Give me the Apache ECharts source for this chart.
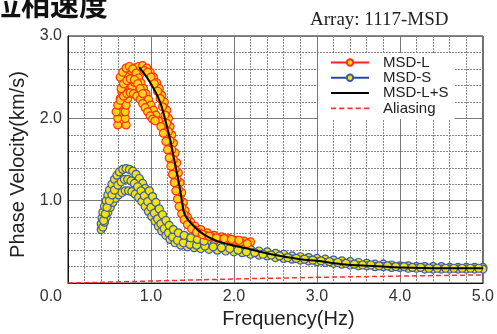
<!DOCTYPE html>
<html>
<head>
<meta charset="UTF-8" />
<script src="https://cdn.jsdelivr.net/npm/echarts@6/dist/echarts.min.js"></script>
<style>
  html, body { margin: 0; padding: 0; background: #fff; }
  #main { width: 497px; height: 334px; }
</style>
</head>
<body>
<div id="main"></div>
<script>
// axis ticks
var xTicks = [0, 1, 2, 3, 4, 5];
var yTicks = [0, 1, 2, 3];

// MSD-L branches [freq(Hz), phase velocity(km/s)]
var msdL1 = [[0.6,1.92],[0.6,2.0],[0.61,2.08],[0.62,2.16],[0.63,2.24],[0.65,2.32],[0.67,2.4],[0.69,2.47],[0.72,2.53],[0.76,2.58],[0.8,2.61],[0.85,2.63],[0.9,2.64],[0.95,2.61],[0.99,2.56],[1.03,2.5],[1.07,2.43],[1.1,2.36],[1.13,2.28],[1.16,2.2],[1.19,2.1],[1.21,2.0],[1.23,1.9],[1.25,1.8],[1.27,1.7],[1.29,1.58],[1.31,1.46],[1.33,1.34],[1.35,1.22],[1.37,1.1],[1.39,0.98],[1.41,0.88],[1.44,0.8],[1.48,0.74],[1.53,0.69],[1.6,0.65],[1.68,0.61],[1.76,0.58],[1.85,0.56],[1.94,0.54],[2.03,0.52],[2.12,0.51],[2.2,0.5]];
var msdL2 = [[0.7,1.92],[0.69,2.0],[0.69,2.08],[0.7,2.16],[0.72,2.24],[0.74,2.31],[0.77,2.38],[0.8,2.44],[0.84,2.5],[0.88,2.55],[0.92,2.58],[0.96,2.56],[1.0,2.5],[1.04,2.42],[1.08,2.33],[1.11,2.24],[1.14,2.14],[1.17,2.04],[1.19,1.94],[1.21,1.84],[1.23,1.73],[1.25,1.62],[1.27,1.5],[1.29,1.38],[1.31,1.26],[1.33,1.14],[1.35,1.02],[1.37,0.92],[1.4,0.83],[1.43,0.76],[1.47,0.7],[1.52,0.65],[1.58,0.61],[1.65,0.58],[1.73,0.56],[1.81,0.54],[1.9,0.53],[1.99,0.52],[2.08,0.5],[2.16,0.48]];
var msdL3 = [[0.63,2.5],[0.66,2.56],[0.7,2.61],[0.74,2.63],[0.78,2.6],[0.82,2.55],[0.85,2.49],[0.88,2.43],[0.91,2.36],[0.94,2.3],[0.97,2.23],[1.0,2.16],[1.03,2.1],[1.06,2.04],[1.09,1.97],[1.12,1.9],[1.15,1.82],[1.18,1.72],[1.2,1.62],[1.22,1.52],[1.24,1.42],[1.26,1.32],[1.28,1.22],[1.3,1.12],[1.32,1.02],[1.34,0.93],[1.37,0.84],[1.4,0.77],[1.44,0.71],[1.49,0.66],[1.55,0.62],[1.62,0.59],[1.7,0.57],[1.79,0.55],[1.88,0.54],[1.97,0.53],[2.06,0.52]];
var msdL4 = [[0.58,2.08],[0.6,2.16],[0.63,2.22],[0.67,2.27],[0.71,2.3],[0.75,2.31],[0.79,2.3],[0.83,2.27],[0.87,2.23],[0.9,2.18],[0.93,2.13],[0.96,2.08],[0.99,2.03],[1.02,1.99],[1.05,1.97]];
var msdL5 = [[0.64,2.36],[0.67,2.42],[0.71,2.46],[0.75,2.48],[0.8,2.47],[0.84,2.42],[0.87,2.36],[0.9,2.3]];

// MSD-S branches
var msdS1 = [[0.4,0.65],[0.4,0.72],[0.41,0.79],[0.42,0.86],[0.44,0.93],[0.46,1.0],[0.48,1.07],[0.5,1.13],[0.53,1.2],[0.56,1.26],[0.59,1.31],[0.62,1.35],[0.66,1.38],[0.7,1.39],[0.74,1.38],[0.78,1.36],[0.82,1.32],[0.86,1.27],[0.9,1.21],[0.93,1.15],[0.96,1.09],[0.99,1.03],[1.02,0.97],[1.05,0.91],[1.08,0.85],[1.11,0.79],[1.14,0.74],[1.18,0.69],[1.22,0.65],[1.27,0.61],[1.32,0.58],[1.38,0.55],[1.45,0.53],[1.52,0.51],[1.6,0.49],[1.68,0.48],[1.76,0.47],[1.84,0.46],[1.92,0.45],[2.0,0.44],[2.1,0.42],[2.2,0.41],[2.3,0.39],[2.4,0.38],[2.5,0.36],[2.6,0.35],[2.7,0.33],[2.8,0.32],[2.9,0.31],[3.0,0.3],[3.1,0.29],[3.2,0.28],[3.3,0.27],[3.4,0.26],[3.5,0.25],[3.6,0.24],[3.7,0.23],[3.8,0.23],[3.9,0.22],[4.0,0.21],[4.1,0.21],[4.2,0.2],[4.3,0.2],[4.4,0.2],[4.5,0.2],[4.6,0.19],[4.7,0.19],[4.8,0.19],[4.9,0.19],[5.0,0.19]];
var msdS2 = [[0.42,0.68],[0.44,0.74],[0.46,0.8],[0.48,0.86],[0.51,0.92],[0.54,0.98],[0.57,1.03],[0.61,1.07],[0.65,1.1],[0.69,1.12],[0.73,1.12],[0.77,1.11],[0.81,1.08],[0.85,1.04],[0.89,0.99],[0.93,0.93],[0.97,0.87],[1.01,0.81],[1.05,0.75],[1.09,0.69],[1.13,0.63],[1.18,0.58],[1.23,0.53],[1.29,0.49],[1.36,0.46],[1.44,0.44],[1.52,0.43],[1.6,0.42],[1.7,0.41],[1.8,0.4],[1.9,0.39],[2.0,0.38],[2.1,0.37],[2.2,0.35],[2.3,0.34],[2.4,0.33],[2.5,0.31],[2.6,0.3],[2.7,0.29],[2.8,0.28],[2.9,0.27],[3.0,0.26],[3.1,0.25],[3.2,0.24],[3.3,0.23],[3.4,0.22],[3.5,0.21],[3.6,0.21],[3.7,0.2],[3.8,0.2],[3.9,0.19],[4.0,0.19],[4.1,0.18],[4.2,0.18],[4.3,0.17],[4.4,0.17],[4.5,0.17],[4.6,0.17],[4.7,0.17],[4.8,0.17],[4.9,0.17],[5.0,0.17]];
var msdS3 = [[0.43,0.76],[0.45,0.84],[0.47,0.92],[0.5,1.0],[0.53,1.07],[0.56,1.13],[0.6,1.19],[0.64,1.23],[0.68,1.26],[0.72,1.26],[0.76,1.24],[0.8,1.21],[0.84,1.17],[0.88,1.12],[0.92,1.06],[0.96,0.99],[1.0,0.92],[1.04,0.85],[1.08,0.78],[1.12,0.72],[1.16,0.66],[1.21,0.61],[1.26,0.56],[1.32,0.52],[1.39,0.49],[1.47,0.47],[1.55,0.46],[1.65,0.45],[1.75,0.44],[1.85,0.43],[1.95,0.42],[2.05,0.4],[2.15,0.38],[2.25,0.37],[2.35,0.35],[2.45,0.34],[2.55,0.33],[2.65,0.31],[2.75,0.3],[2.85,0.29],[2.95,0.28],[3.05,0.27],[3.15,0.26],[3.25,0.25],[3.35,0.24],[3.45,0.23],[3.55,0.22],[3.65,0.22],[3.75,0.21],[3.85,0.21],[3.95,0.2],[4.05,0.2],[4.15,0.19],[4.25,0.19],[4.35,0.18],[4.45,0.18],[4.55,0.18],[4.65,0.18],[4.75,0.18],[4.85,0.18],[4.95,0.18]];
var msdS4 = [[0.98,1.12],[1.02,1.05],[1.06,0.98],[1.1,0.9],[1.14,0.83],[1.18,0.76],[1.22,0.7],[1.27,0.65],[1.33,0.61],[1.4,0.58],[1.48,0.55],[1.56,0.53],[1.64,0.51]];

// MSD-L+S
var msdLS = [[0.86,2.62],[0.95,2.5],[1.05,2.33],[1.12,2.17],[1.18,1.95],[1.23,1.75],[1.28,1.5],[1.33,1.25],[1.37,1.02],[1.4,0.85],[1.47,0.74],[1.57,0.64],[1.67,0.57],[1.8,0.51],[1.98,0.46],[2.2,0.41],[2.4,0.36],[2.8,0.29],[3.0,0.27],[3.3,0.23],[3.6,0.21],[4.0,0.19],[4.5,0.18],[5.0,0.18]];

// Aliasing
var aliasing = [[0,0],[1,0.025],[2,0.05],[3,0.07],[4,0.085],[5,0.1]];

var chart = echarts.init(document.getElementById('main'));

function lSeries(d) {
  return {
    name: 'MSD-L', type: 'line', data: d, z: 3,
    symbol: 'circle', symbolSize: 8,
    lineStyle: { color: '#ff2020', width: 1 },
    itemStyle: { color: '#ffd21a', borderColor: '#ff3010', borderWidth: 1.2 }
  };
}
function sSeries(d) {
  return {
    name: 'MSD-S', type: 'line', data: d, z: 2,
    symbol: 'circle', symbolSize: 8,
    lineStyle: { color: '#2848a8', width: 1 },
    itemStyle: { color: '#f2e40a', borderColor: '#3a5ab0', borderWidth: 1.2 }
  };
}

var solidIcon = 'path://M0,0h38v2h-38z';
var dashIcon = 'path://M0,0h5v1.6h-5zM8,0h5v1.6h-5zM16,0h5v1.6h-5zM24,0h5v1.6h-5zM32,0h5v1.6h-5z';

var option = {
  animation: false,
  textStyle: { fontFamily: 'Liberation Sans, Arial, sans-serif' },
  title: [
    {
      text: '位相速度', left: -8, top: -10, padding: 0,
      textStyle: { fontFamily: 'Noto Sans CJK JP', fontSize: 29, fontWeight: 'bold', color: '#111' }
    },
    {
      text: 'Array: 1117-MSD', left: 310, top: 11, padding: 0,
      textStyle: { fontFamily: 'Liberation Serif', fontSize: 19, fontWeight: 'normal', color: '#222' }
    }
  ],
  legend: {
    orient: 'vertical', left: 318, top: 53,
    backgroundColor: '#fff',
    padding: [2, 6, 3, 12],
    itemWidth: 38, itemHeight: 8, itemGap: 0.3,
    textStyle: { fontSize: 15, lineHeight: 15, color: '#222', padding: [0, 0, 0, 9] },
    data: [
      { name: 'MSD-L' },
      { name: 'MSD-S' },
      { name: 'MSD-L+S', icon: solidIcon },
      { name: 'Aliasing', icon: dashIcon }
    ]
  },
  grid: {
    left: 68, right: 13, top: 36, bottom: 43,
    show: true, borderColor: '#111', borderWidth: 1
  },
  xAxis: {
    type: 'value', min: xTicks[0], max: xTicks[xTicks.length - 1], interval: 1,
    name: 'Frequency(Hz)', nameLocation: 'middle', nameGap: 22,
    nameTextStyle: { fontSize: 20, color: '#222', padding: [0, 0, 0, 26] },
    axisLine: { lineStyle: { color: '#111' } },
    axisTick: { show: false },
    axisLabel: {
      fontSize: 16, color: '#333', margin: 5,
      alignMinLabel: 'right',
      formatter: function (v) { return v === 0 ? '{z|0.0}' : v.toFixed(1); },
      rich: { z: { fontSize: 16, color: '#333', padding: [0, 6, 0, 0] } }
    },
    splitLine: { lineStyle: { color: '#777', width: 1 } },
    minorTick: { show: false, splitNumber: 5 },
    minorSplitLine: { show: true, lineStyle: { color: '#888', type: [2, 1], width: 1 } }
  },
  yAxis: {
    type: 'value', min: yTicks[0], max: yTicks[yTicks.length - 1], interval: 1,
    name: 'Phase Velocity(km/s)', nameLocation: 'middle', nameGap: 40,
    nameTextStyle: { fontSize: 20, color: '#222', padding: [0, 10, 0, 0] },
    axisLine: { show: true, lineStyle: { color: '#111' } },
    axisTick: { show: false },
    axisLabel: {
      fontSize: 16, color: '#333', margin: 6, showMinLabel: false,
      formatter: function (v) { return v.toFixed(1); }
    },
    splitLine: { lineStyle: { color: '#777', width: 1 } },
    minorTick: { show: false, splitNumber: 5 },
    minorSplitLine: { show: true, lineStyle: { color: '#888', type: [2, 1], width: 1 } }
  },
  series: [
    sSeries(msdS1), sSeries(msdS2), sSeries(msdS3), sSeries(msdS4),
    lSeries(msdL1), lSeries(msdL2), lSeries(msdL3), lSeries(msdL4), lSeries(msdL5),
    {
      name: 'MSD-L+S', type: 'line', data: msdLS, z: 4, symbol: 'none', smooth: 0.3,
      itemStyle: { color: '#000' },
      lineStyle: { color: '#000', width: 2 }
    },
    {
      name: 'Aliasing', type: 'line', data: aliasing, z: 4, symbol: 'none',
      itemStyle: { color: '#ff3030' },
      lineStyle: { color: '#ff3030', width: 1.5, type: [5, 3] }
    }
  ]
};
chart.setOption(option);
</script>
</body>
</html>
